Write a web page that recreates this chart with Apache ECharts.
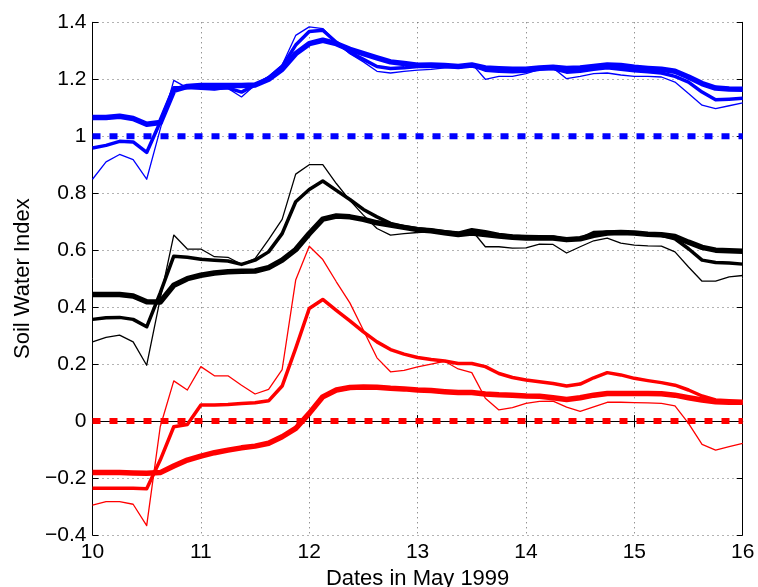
<!DOCTYPE html>
<html>
<head>
<meta charset="utf-8">
<title>Soil Water Index</title>
<script src="https://cdn.jsdelivr.net/npm/echarts@6/dist/echarts.min.js"></script>
<style>
  html, body { margin: 0; padding: 0; background: #fff; }
  #container { width: 758px; height: 587px; }
</style>
</head>
<body>
<div id="container"></div>
<script type="text/javascript">
// time steps (every 3 hours, days of May 1999)
var days = [10, 10.125, 10.25, 10.375, 10.5, 10.625, 10.75, 10.875,
    11, 11.125, 11.25, 11.375, 11.5, 11.625, 11.75, 11.875,
    12, 12.125, 12.25, 12.375, 12.5, 12.625, 12.75, 12.875,
    13, 13.125, 13.25, 13.375, 13.5, 13.625, 13.75, 13.875,
    14, 14.125, 14.25, 14.375, 14.5, 14.625, 14.75, 14.875,
    15, 15.125, 15.25, 15.375, 15.5, 15.625, 15.75, 15.875, 16];

// blue group
var blueThin = [0.849, 0.91, 0.936, 0.918, 0.849, 1.025, 1.196, 1.17, 1.165, 1.162, 1.168, 1.138,
    1.18, 1.21, 1.25, 1.354, 1.384, 1.378, 1.33, 1.29, 1.261, 1.228, 1.222, 1.228,
    1.232, 1.235, 1.24, 1.245, 1.255, 1.2, 1.21, 1.21, 1.22, 1.235, 1.24, 1.202,
    1.21, 1.22, 1.222, 1.215, 1.21, 1.21, 1.208, 1.19, 1.15, 1.109, 1.097, 1.107, 1.117];
var blueMed = [0.959, 0.968, 0.982, 0.98, 0.943, 1.05, 1.17, 1.17, 1.17, 1.168, 1.17, 1.155,
    1.18, 1.205, 1.245, 1.32, 1.368, 1.372, 1.33, 1.295, 1.27, 1.245, 1.238, 1.24,
    1.245, 1.246, 1.245, 1.243, 1.25, 1.232, 1.228, 1.226, 1.228, 1.235, 1.238, 1.225,
    1.228, 1.235, 1.24, 1.235, 1.23, 1.226, 1.222, 1.21, 1.19, 1.155, 1.128, 1.13, 1.133];
var blueThick = [1.066, 1.066, 1.07, 1.062, 1.042, 1.048, 1.161, 1.175, 1.178, 1.178, 1.178, 1.178,
    1.18, 1.2, 1.235, 1.29, 1.325, 1.337, 1.325, 1.305, 1.29, 1.275, 1.261, 1.255,
    1.249, 1.25, 1.248, 1.245, 1.25, 1.24, 1.237, 1.235, 1.235, 1.24, 1.242, 1.238,
    1.24, 1.245, 1.25, 1.248, 1.242, 1.238, 1.235, 1.228, 1.208, 1.185, 1.169, 1.166, 1.165];

// black group
var blackThin = [0.278, 0.294, 0.302, 0.278, 0.196, 0.43, 0.653, 0.604, 0.604, 0.577, 0.575, 0.55,
    0.57, 0.637, 0.708, 0.867, 0.9, 0.9, 0.834, 0.775, 0.723, 0.676, 0.653, 0.658,
    0.662, 0.665, 0.662, 0.658, 0.67, 0.612, 0.612, 0.607, 0.608, 0.621, 0.62, 0.59,
    0.612, 0.633, 0.642, 0.625, 0.618, 0.615, 0.614, 0.594, 0.541, 0.491, 0.491, 0.506, 0.511];
var blackMed = [0.357, 0.363, 0.364, 0.357, 0.331, 0.45, 0.579, 0.575, 0.568, 0.565, 0.562, 0.55,
    0.565, 0.594, 0.658, 0.77, 0.813, 0.843, 0.81, 0.778, 0.743, 0.717, 0.694, 0.682,
    0.675, 0.67, 0.665, 0.66, 0.672, 0.665, 0.655, 0.65, 0.648, 0.647, 0.646, 0.637,
    0.64, 0.662, 0.664, 0.663, 0.66, 0.656, 0.652, 0.64, 0.605, 0.565, 0.557, 0.555, 0.551];
var blackThick = [0.444, 0.444, 0.444, 0.439, 0.419, 0.418, 0.477, 0.5, 0.512, 0.52, 0.524, 0.526,
    0.527, 0.539, 0.565, 0.602, 0.658, 0.709, 0.72, 0.717, 0.708, 0.696, 0.688, 0.68,
    0.672, 0.668, 0.661, 0.655, 0.66, 0.655, 0.65, 0.645, 0.643, 0.643, 0.643, 0.637,
    0.64, 0.652, 0.66, 0.662, 0.66, 0.656, 0.654, 0.648, 0.628, 0.61, 0.6, 0.598, 0.596];

// red group
var redThin = [-0.295, -0.283, -0.283, -0.292, -0.367, -0.02, 0.141, 0.109, 0.191, 0.159, 0.159, 0.126,
    0.095, 0.111, 0.181, 0.495, 0.614, 0.567, 0.489, 0.415, 0.319, 0.222, 0.173, 0.178,
    0.19, 0.2, 0.21, 0.183, 0.17, 0.08, 0.039, 0.047, 0.062, 0.069, 0.07, 0.049,
    0.034, 0.05, 0.066, 0.066, 0.065, 0.064, 0.062, 0.053, -0.008, -0.082, -0.102, -0.09, -0.078];
var redMed = [-0.236, -0.236, -0.236, -0.236, -0.238, -0.137, -0.02, -0.012, 0.056, 0.056, 0.058, 0.062,
    0.064, 0.071, 0.123, 0.255, 0.395, 0.427, 0.389, 0.352, 0.313, 0.278, 0.251, 0.235,
    0.223, 0.216, 0.211, 0.202, 0.202, 0.191, 0.167, 0.153, 0.144, 0.138, 0.132, 0.123,
    0.13, 0.152, 0.17, 0.162, 0.15, 0.142, 0.135, 0.126, 0.109, 0.088, 0.074, 0.071, 0.068];
var redThick = [-0.181, -0.181, -0.181, -0.182, -0.183, -0.181, -0.158, -0.137, -0.123, -0.111, -0.102, -0.094,
    -0.088, -0.078, -0.055, -0.026, 0.027, 0.085, 0.109, 0.118, 0.12, 0.119, 0.115, 0.113,
    0.109, 0.107, 0.103, 0.1, 0.1, 0.095, 0.092, 0.091, 0.088, 0.087, 0.082, 0.076,
    0.082, 0.091, 0.097, 0.097, 0.097, 0.097, 0.096, 0.091, 0.082, 0.074, 0.068, 0.066, 0.066];

// reference levels (dashed)
var blueRef = 1;
var redRef = 0;

var FONT = '"Liberation Sans", Arial, Helvetica, sans-serif';

function pts(vals) {
    return vals.map(function (v, i) { return [days[i], v]; });
}

function refLine(level) {
    return [[days[0], level], [days[days.length - 1], level]];
}

function line(vals, color, width) {
    return {
        type: 'line',
        data: pts(vals),
        showSymbol: false,
        symbol: 'none',
        silent: true,
        lineStyle: { color: color, width: width, join: 'round' }
    };
}

function dashed(level, color) {
    return {
        type: 'line',
        data: refLine(level),
        showSymbol: false,
        symbol: 'none',
        silent: true,
        lineStyle: { color: color, width: 6, type: [8, 9], cap: 'butt' }
    };
}

var gridDots = { show: true, lineStyle: { color: '#666', width: 1, type: [1, 4] } };
var tickIn = { show: true, inside: true, length: 6, lineStyle: { color: '#000', width: 1 } };
var axLine = { show: true, lineStyle: { color: '#000', width: 1 } };

var dom = document.getElementById('container');
var myChart = echarts.init(dom, null, { renderer: 'canvas' });

var option = {
    animation: false,
    backgroundColor: '#fff',
    grid: { left: 92.5, right: 15.3, top: 22.3, bottom: 52, outerBoundsMode: 'none' },
    xAxis: [{
        type: 'value', min: 10, max: 16, interval: 1, position: 'bottom',
        name: 'Dates in May 1999', nameLocation: 'middle', nameGap: 31,
        nameTextStyle: { color: '#000', fontSize: 22, fontFamily: FONT },
        axisLine: axLine, axisTick: tickIn, splitLine: gridDots,
        axisLabel: { color: '#000', fontSize: 21, fontFamily: FONT, margin: 7 }
    }, {
        type: 'value', min: 10, max: 16, interval: 1, position: 'top',
        axisLine: axLine, axisTick: tickIn, splitLine: { show: false },
        axisLabel: { show: false }
    }],
    yAxis: [{
        type: 'value', min: -0.4, max: 1.4, interval: 0.2, position: 'left',
        name: 'Soil Water Index', nameLocation: 'middle', nameGap: 57,
        nameTextStyle: { color: '#000', fontSize: 22, fontFamily: FONT },
        axisLine: axLine, axisTick: tickIn, splitLine: gridDots,
        axisLabel: {
            color: '#000', fontSize: 21, fontFamily: FONT, margin: 6,
            formatter: function (v) { return String(+v.toFixed(1)).replace('-', '\u2212'); }
        }
    }, {
        type: 'value', min: -0.4, max: 1.4, interval: 0.2, position: 'right',
        axisLine: axLine, axisTick: tickIn, splitLine: { show: false },
        axisLabel: { show: false }
    }],
    series: [
        dashed(blueRef, '#0000ff'),
        dashed(redRef, '#ff0000'),
        line(blueThick, '#0000ff', 5.5),
        line(blueMed, '#0000ff', 3.5),
        line(blueThin, '#0000ff', 1.3),
        line(blackThick, '#000000', 5.5),
        line(blackMed, '#000000', 3.5),
        line(blackThin, '#000000', 1.3),
        line(redThick, '#ff0000', 5.5),
        line(redMed, '#ff0000', 3.5),
        line(redThin, '#ff0000', 1.3)
    ]
};

if (option && typeof option === 'object') {
    myChart.setOption(option, true);
}
</script>
</body>
</html>
